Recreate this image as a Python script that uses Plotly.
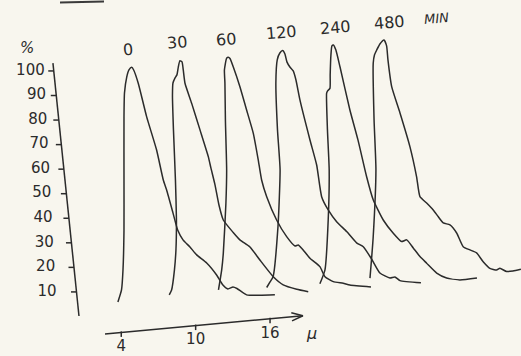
import math
import plotly.graph_objects as go

# ---------------- data ----------------
minutes = [0, 30, 60, 120, 240, 480]
time_unit = "MIN"
y_tick_values = [10, 20, 30, 40, 50, 60, 70, 80, 90, 100]
y_title = "%"
x_tick_values = [4, 10, 16]
x_unit = "μ"

size_0 = [3.73, 4.02, 4.14, 4.22, 4.22, 4.22, 4.26, 4.44, 4.62, 4.84, 5.00, 5.37, 6.05, 6.85, 7.39,
          7.66, 8.17, 8.55, 8.98, 9.54, 10.08, 10.89, 11.69, 12.20, 12.60, 13.01, 13.33, 14.11, 15.18, 16.39]
pct_0 = [5.9, 10.8, 19.0, 35.2, 55.6, 81.3, 91.0, 97.5, 100.4, 101.5, 100.4, 95.0, 81.3, 67.8, 55.6,
         51.5, 42.2, 35.2, 31.2, 28.3, 25.1, 21.8, 16.9, 12.8, 11.2, 12.0, 11.4, 8.8, 8.6, 8.8]

size_30 = [7.87, 8.06, 8.29, 8.41, 8.45, 8.37, 8.21, 8.13, 8.17, 8.33, 8.49, 8.60, 8.73, 8.90, 9.00,
           9.14, 9.68, 10.35, 11.02, 11.23, 11.56, 11.88, 12.23, 13.03, 13.57, 14.38, 15.18, 16.26,
           17.06, 18.15, 19.08]
pct_30 = [8.8, 10.8, 19.0, 27.1, 39.3, 55.6, 76.0, 90.2, 95.1, 97.1, 98.4, 101.6, 104.2, 103.7, 100.4,
          95.0, 86.8, 76.0, 65.1, 60.5, 53.6, 45.4, 39.3, 34.2, 31.2, 28.3, 23.0, 16.2, 12.9, 11.1, 10.1]

size_60 = [11.84, 12.10, 12.23, 12.44, 12.50, 12.40, 12.36, 12.32, 12.50, 12.63, 12.77, 13.03, 13.57,
           14.11, 14.65, 15.05, 15.32, 15.73, 16.53, 17.34, 18.01, 18.27, 18.55, 19.22, 20.02, 20.43,
           21.10, 21.90, 22.44, 24.14]
pct_60 = [10.8, 19.0, 25.7, 46.1, 59.7, 80.0, 95.1, 100.4, 105.2, 105.6, 105.1, 101.7, 93.6, 84.1,
          74.6, 63.7, 55.6, 48.8, 39.3, 32.5, 28.7, 29.1, 27.8, 23.7, 20.3, 16.2, 14.2, 13.5, 12.8, 12.0]

size_120 = [15.73, 16.00, 16.24, 16.64, 16.81, 16.60, 16.47, 16.58, 16.79, 17.02, 17.20, 17.36, 17.60,
            17.87, 18.09, 18.41, 19.22, 19.76, 20.16, 20.69, 21.37, 22.18, 22.98, 23.52, 24.19, 24.86,
            25.67, 26.07, 26.48, 28.17]
pct_120 = [11.8, 14.1, 16.1, 36.6, 59.7, 76.0, 95.1, 104.5, 107.3, 108.3, 106.9, 103.7, 101.6, 100.0,
           96.3, 88.2, 71.9, 61.7, 48.8, 43.4, 38.6, 34.6, 30.0, 28.4, 23.4, 17.7, 15.7, 16.1, 14.6, 13.7]

size_240 = [20.02, 20.43, 20.69, 20.77, 20.63, 20.56, 20.63, 20.83, 20.85, 20.91, 20.99, 21.11, 21.31,
            21.64, 22.44, 23.09, 23.79, 24.32, 25.13, 25.94, 26.61, 27.02, 27.55, 28.09, 28.63, 29.44,
            30.24, 31.31, 32.69]
pct_240 = [13.3, 19.0, 39.3, 59.7, 76.0, 90.9, 91.8, 92.9, 98.4, 106.5, 110.2, 110.6, 108.5, 101.7,
           84.1, 71.9, 56.9, 47.5, 39.3, 33.9, 30.5, 31.2, 27.9, 24.4, 21.7, 17.7, 15.7, 14.9, 15.7]

size_480 = [24.06, 24.18, 24.32, 24.54, 24.39, 24.32, 24.42, 24.60, 24.86, 25.19, 25.40, 25.51, 25.81,
            26.48, 27.28, 27.82, 28.09, 28.63, 29.16, 29.56, 29.97, 30.51, 31.05, 31.58, 32.12, 32.66,
            33.19, 33.73, 34.27, 34.54, 35.08, 35.59, 36.23]
pct_480 = [15.6, 23.0, 32.5, 59.7, 80.0, 103.1, 106.5, 108.5, 111.0, 112.6, 110.2, 104.5, 93.6, 82.9,
           69.2, 56.9, 48.8, 46.2, 43.4, 40.7, 38.1, 37.3, 34.0, 28.4, 27.1, 25.9, 22.3, 19.6, 18.9,
           19.6, 18.3, 18.5, 19.2]

sizes = [size_0, size_30, size_60, size_120, size_240, size_480]
pcts = [pct_0, pct_30, pct_60, pct_120, pct_240, pct_480]

# ---------------- style / layout ----------------
W, H = 521, 356
X_RANGE = [-5.78, 36.24]
Y_RANGE = [-16.1, 128.9]
PX_X = W / (X_RANGE[1] - X_RANGE[0])   # px per x unit
PX_Y = H / (Y_RANGE[1] - Y_RANGE[0])   # px per y unit
INK = "#2b2b2b"
PAPER = "#f8f6ee"
FONT = "DejaVu Sans"
LW = 1.5

fig = go.Figure()

# curves
for xs, ys in zip(sizes, pcts):
    fig.add_trace(go.Scatter(x=xs, y=ys, mode="lines",
                             line=dict(color=INK, width=LW, shape="spline", smoothing=0.5),
                             hoverinfo="skip", showlegend=False))

# hand drawn (slanted) y axis
ya_top = (-1.51, 103.2)
ya_bot = (0.59, 0.2)


def yaxis_x(v):
    t = (ya_top[1] - v) / (ya_top[1] - ya_bot[1])
    return ya_top[0] + t * (ya_bot[0] - ya_top[0])


fig.add_trace(go.Scatter(x=[ya_top[0], ya_bot[0]], y=[ya_top[1], ya_bot[1]], mode="lines",
                         line=dict(color=INK, width=LW), hoverinfo="skip", showlegend=False))
tx, ty, lx, ly, lt = [], [], [], [], []
for v in y_tick_values:
    ax = yaxis_x(v)
    tx += [ax - 5.5 / PX_X, ax, None]
    ty += [v, v, None]
    gap_px = 9 + (100 - v) / 90 * 11
    lx.append(ax - gap_px / PX_X)
    ly.append(v)
    lt.append(str(v))
fig.add_trace(go.Scatter(x=tx, y=ty, mode="lines", line=dict(color=INK, width=LW),
                         hoverinfo="skip", showlegend=False))
fig.add_trace(go.Scatter(x=lx, y=ly, mode="text", text=lt, textposition="middle left",
                         textfont=dict(family=FONT, size=15, color=INK),
                         hoverinfo="skip", showlegend=False))
fig.add_annotation(x=ya_top[0] - 26 / PX_X, y=ya_top[1] + 6.0, text=y_title, showarrow=False,
                   font=dict(family=FONT, size=15, color=INK, style="italic"))

# hand drawn x axis arrow
xa_start = (2.69, -7.1)
xa_end = (18.65, 0.3)


def xaxis_y(u):
    t = (u - xa_start[0]) / (xa_end[0] - xa_start[0])
    return xa_start[1] + t * (xa_end[1] - xa_start[1])


fig.add_trace(go.Scatter(x=[xa_start[0], xa_end[0]], y=[xa_start[1], xa_end[1]], mode="lines",
                         line=dict(color=INK, width=LW), hoverinfo="skip", showlegend=False))
# arrow head (computed in pixel space)
dxp = (xa_end[0] - xa_start[0]) * PX_X
dyp = (xa_end[1] - xa_start[1]) * PX_Y
ang = math.atan2(dyp, dxp)
hx, hy = [], []
for s in (1, -1):
    a = ang + math.pi + s * math.radians(20)
    hx.append(xa_end[0] + 12 * math.cos(a) / PX_X)
    hy.append(xa_end[1] + 12 * math.sin(a) / PX_Y)
fig.add_trace(go.Scatter(x=[hx[0], xa_end[0], hx[1]], y=[hy[0], xa_end[1], hy[1]], mode="lines",
                         line=dict(color=INK, width=LW), hoverinfo="skip", showlegend=False))
# x ticks
kx, ky = [], []
for u in x_tick_values:
    yy = xaxis_y(u)
    kx += [u, u, None]
    ky += [yy + 1 / PX_Y, yy - 4.5 / PX_Y, None]
fig.add_trace(go.Scatter(x=kx, y=ky, mode="lines", line=dict(color=INK, width=LW),
                         hoverinfo="skip", showlegend=False))
fig.add_trace(go.Scatter(x=x_tick_values, y=[xaxis_y(u) - 15 / PX_Y for u in x_tick_values],
                         mode="text", text=[str(u) for u in x_tick_values], textposition="middle center",
                         textfont=dict(family=FONT, size=15, color=INK),
                         hoverinfo="skip", showlegend=False))
fig.add_annotation(x=xa_end[0] + 1 / PX_X, y=xa_end[1] - 18 / PX_Y, text=x_unit, showarrow=False,
                   xanchor="left", font=dict(family=FONT, size=16, color=INK, style="italic"))

# curve labels above each peak
label_dx_px = [-4, -3, -2, -1, 2, 6]
last = None
for m, xs, ys, dpx in zip(minutes, sizes, pcts, label_dx_px):
    i = ys.index(max(ys))
    lxv = xs[i] + dpx / PX_X
    lyv = ys[i] + 7.3
    fig.add_annotation(x=lxv, y=lyv, text=str(m), showarrow=False, textangle=-5,
                       font=dict(family=FONT, size=16, color=INK))
    last = (lxv, lyv)
fig.add_annotation(x=last[0] + 47 / PX_X, y=last[1] + 4 / PX_Y, text=time_unit, showarrow=False,
                   textangle=-5, font=dict(family=FONT, size=13, color=INK, style="italic"))

# small pen stroke at the top edge of the scan
fig.add_shape(type="line", xref="paper", yref="paper", x0=60 / W, x1=104 / W,
              y0=1 - 2.5 / H, y1=1 - 1.5 / H, line=dict(color="#3a3a3a", width=2))

fig.update_layout(
    width=W, height=H, margin=dict(l=0, r=0, t=0, b=0),
    paper_bgcolor=PAPER, plot_bgcolor=PAPER, showlegend=False,
    xaxis=dict(range=X_RANGE, visible=False, fixedrange=True),
    yaxis=dict(range=Y_RANGE, visible=False, fixedrange=True),
)
fig.write_html("out.html", config={"displayModeBar": False},
               post_script="document.body.style.margin='0';document.body.style.background='%s';" % PAPER)
